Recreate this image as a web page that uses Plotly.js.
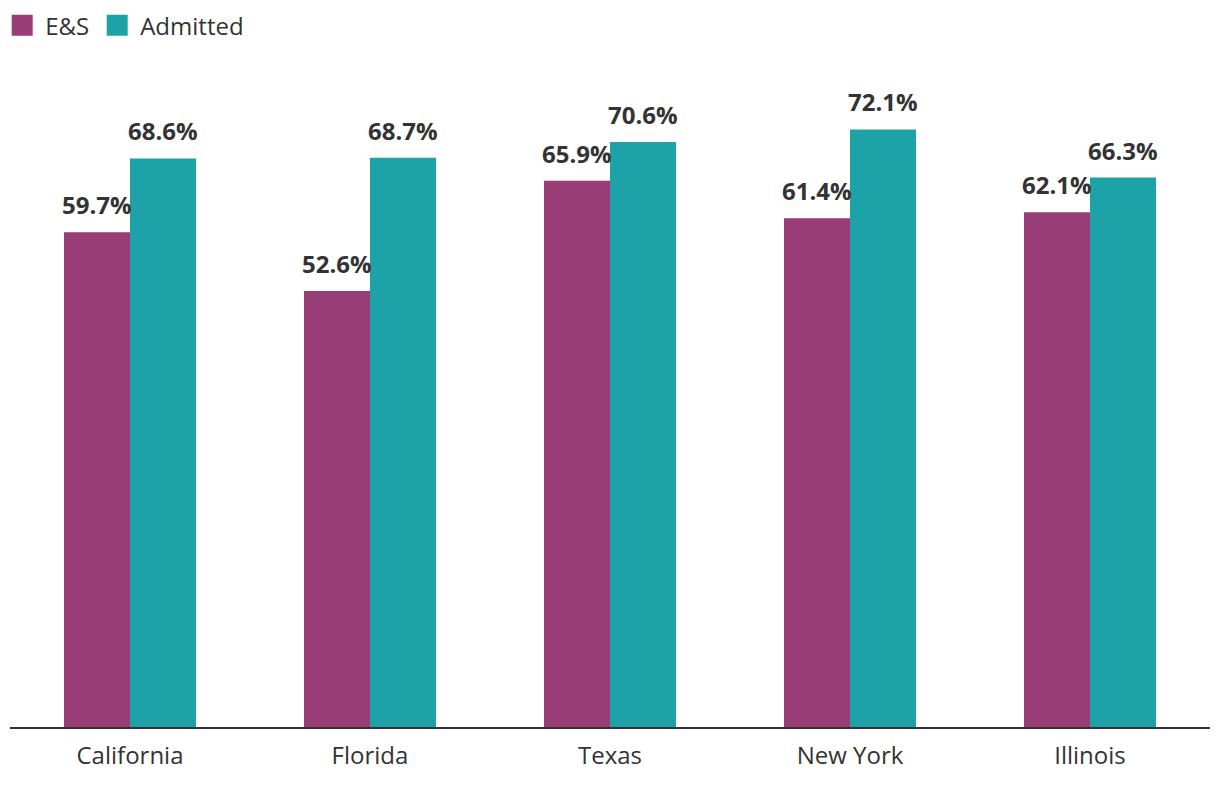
<!DOCTYPE html>
<html>
<head>
<meta charset="utf-8">
<script src="https://cdn.plot.ly/plotly-3.0.1.min.js"></script>
<style>html,body{margin:0;padding:0;background:#fff;}#chart{width:1220px;height:792px;}</style>
</head>
<body>
<div id="chart"></div>
<script>
const categories = ["California", "Florida", "Texas", "New York", "Illinois"];
const esValues = [59.7, 52.6, 65.9, 61.4, 62.1];
const admittedValues = [68.6, 68.7, 70.6, 72.1, 66.3];
const seriesNames = ["E&S", "Admitted"];
const colors = ["#993D76", "#1DA2A7"];

const fmt = v => v.toFixed(1) + "%";

function barTrace(name, values, color) {
  return {
    type: "bar",
    name: name,
    x: categories,
    y: values,
    marker: {color: color},
    hovertemplate: "%{x}: %{y:.1f}%<extra>" + name + "</extra>",
    showlegend: false
  };
}
function legendTrace(name, color) {
  return {
    type: "scatter", mode: "markers", name: name,
    x: [null], y: [null],
    marker: {symbol: "square", size: 16, color: color, line: {color: color, width: 5}},
    hoverinfo: "skip", showlegend: true
  };
}

const data = [
  barTrace(seriesNames[0], esValues, colors[0]),
  barTrace(seriesNames[1], admittedValues, colors[1]),
  legendTrace(seriesNames[0], colors[0]),
  legendTrace(seriesNames[1], colors[1])
];

// value labels above each bar, placed via the axes (x = category, y = value)
const labelFont = {family: "Open Sans", size: 24, color: "#333333", weight: "bold"};
const annotations = [];
[esValues, admittedValues].forEach((vals, si) => {
  vals.forEach((v, i) => {
    annotations.push({
      x: categories[i], y: v, xref: "x", yref: "y",
      text: fmt(v), showarrow: false,
      xanchor: "center", yanchor: "bottom",
      xshift: si === 0 ? -33 : 33, yshift: 9,
      font: labelFont
    });
  });
});

const layout = {
  width: 1220, height: 792,
  margin: {l: 10, r: 10, t: 64, b: 65, autoexpand: false},
  paper_bgcolor: "#ffffff", plot_bgcolor: "#ffffff",
  font: {family: "Open Sans", size: 24, color: "#333333"},
  barmode: "group", bargap: 0.45, bargroupgap: 0,
  showlegend: true,
  legend: {orientation: "h", x: -0.009, xanchor: "left", y: 1.058, yanchor: "middle",
           itemwidth: 36,
           font: {family: "Open Sans", size: 24, color: "#333333"}},
  annotations: annotations,
  xaxis: {type: "category", showline: true, linecolor: "#333333", linewidth: 2,
          ticks: "", showgrid: false, zeroline: false, ticklabelstandoff: 6,
          tickfont: {family: "Open Sans", size: 24, color: "#333333"}},
  yaxis: {range: [0, 80], showgrid: false, zeroline: false, showticklabels: false,
          showline: false, ticks: ""}
};

Plotly.newPlot("chart", data, layout, {displayModeBar: false, staticPlot: true});
</script>
</body>
</html>
